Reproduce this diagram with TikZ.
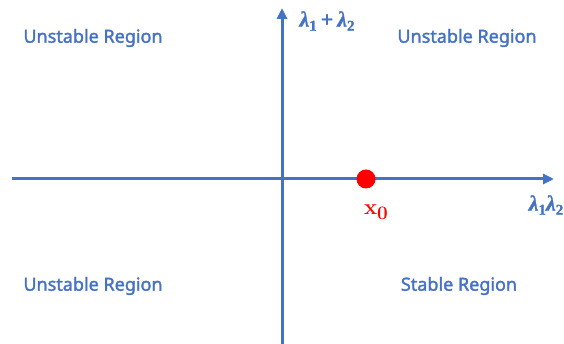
\documentclass[tikz,border=0pt]{standalone}
\usepackage{fontspec}
\newfontfamily\regionfont{Noto Sans}[FakeBold=1.8]
\newfontfamily\lamfont{Liberation Serif}[FakeBold=1.2]
\usetikzlibrary{arrows.meta}
\definecolor{axblue}{HTML}{4472C4}
\definecolor{ptred}{HTML}{FF0000}
\newcommand{\lamsub}[1]{{\lamfont\bfseries\itshape\fontsize{22}{24}\selectfont λ}\raisebox{-4pt}{\lamfont\bfseries\fontsize{15}{16}\selectfont #1}}
\tikzset{
  axis/.style={draw=axblue, line width=3pt, -{Triangle[length=11pt,width=10pt]}},
  region/.style={text=axblue, font=\regionfont\fontsize{18}{20}\selectfont, anchor=center, inner sep=0pt},
  axlabel/.style={text=axblue, inner sep=0pt},
}
\begin{document}
\begin{tikzpicture}[x=1pt,y=-1pt]
\useasboundingbox (0,0) rectangle (564,344);
\coordinate (hl) at (12,179);
\coordinate (hr) at (554,179);
\coordinate (vb) at (282,344);
\coordinate (vt) at (282,8);
\draw[axis] (hl) -- (hr);
\draw[axis] (vb) -- (vt);
\node[circle, fill=ptred, minimum size=19pt, inner sep=0pt] (x0) at (366,179) {};
\node[text=ptred, inner sep=0pt, anchor=center] (x0l) at (376,212) {{\fontsize{22}{24}\selectfont\bfseries x}\raisebox{-5pt}{\fontsize{19}{20}\selectfont\bfseries 0}};
\node[axlabel] (l1) at (327,21) {\lamsub{1}\hspace{4pt}{\lamfont\bfseries\fontsize{22}{24}\selectfont +}\hspace{4pt}\lamsub{2}};
\node[axlabel] (l2) at (546,205) {\lamsub{1}\lamsub{2}};
\node[region] (r1) at (93,38) {Unstable Region};
\node[region] (r2) at (467,38) {Unstable Region};
\node[region] (r3) at (93,286) {Unstable Region};
\node[region] (r4) at (459,286) {Stable Region};
\end{tikzpicture}
\end{document}
